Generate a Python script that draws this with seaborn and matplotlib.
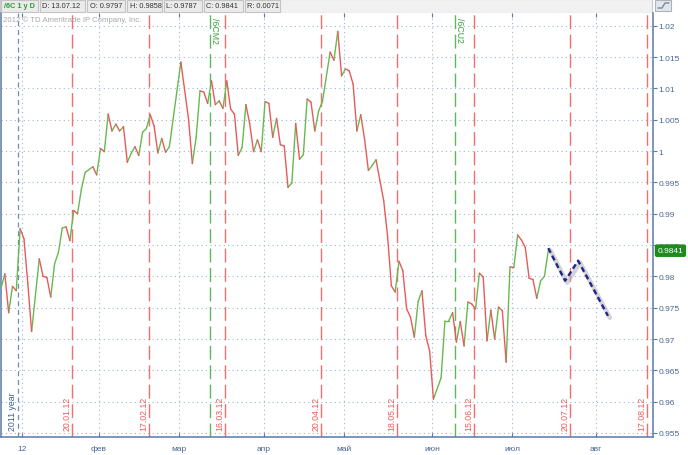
import numpy as np
import pandas as pd
import matplotlib
matplotlib.use("Agg")
import matplotlib.pyplot as plt
import seaborn as sns
from matplotlib.patches import Rectangle
from matplotlib import transforms

# ---------------- data ----------------
day_idx = [0, 1, 2, 3, 4, 5, 6, 7, 8, 10, 11, 12, 13, 14, 15, 16, 17, 18, 19, 20,
           21, 22, 24, 25, 26, 27, 28, 29, 30, 31, 32, 33, 34, 35, 36, 37, 38, 39, 40, 41,
           42, 43, 44, 47, 49, 50, 51, 52, 53, 54, 55, 56, 57, 58, 59, 60, 61, 62, 63, 64,
           65, 66, 67, 68, 69, 70, 71, 72, 73, 74, 75, 76, 77, 78, 79, 80, 81, 82, 83, 84,
           86, 87, 88, 89, 90, 91, 92, 93, 94, 95, 96, 97, 98, 99, 100, 101, 102, 103, 104, 105,
           106, 107, 108, 109, 110, 111, 112, 113, 115, 116, 117, 118, 119, 120, 121, 122, 123, 124, 125, 126,
           127, 128, 129, 130, 131, 132, 133, 134, 135, 136, 137, 138, 139, 140, 141, 142, 143]
close = [0.9781, 0.9804, 0.9742, 0.9784, 0.9777, 0.9876, 0.9860, 0.9789, 0.9712, 0.9828,
         0.9800, 0.9798, 0.9767, 0.9820, 0.9838, 0.9877, 0.9879, 0.9857, 0.9905, 0.9900,
         0.9939, 0.9966, 0.9975, 0.9962, 1.0004, 0.9999, 1.0059, 1.0032, 1.0043, 1.0032,
         1.0039, 0.9982, 0.9996, 1.0007, 0.9993, 1.0030, 1.0036, 1.0058, 1.0040, 0.9997,
         1.0020, 0.9998, 1.0007, 1.0142, 1.0051, 0.9980, 1.0022, 1.0096, 1.0094, 1.0076,
         1.0112, 1.0074, 1.0080, 1.0068, 1.0112, 1.0067, 1.0059, 0.9993, 1.0006, 1.0074,
         1.0043, 0.9999, 1.0018, 0.9999, 1.0079, 1.0076, 1.0022, 1.0052, 1.0010, 1.0008,
         0.9942, 0.9949, 1.0044, 0.9987, 0.9994, 1.0083, 1.0078, 1.0032, 1.0064, 1.0079,
         1.0158, 1.0145, 1.0191, 1.0120, 1.0131, 1.0128, 1.0107, 1.0032, 1.0058, 1.0019,
         0.9969, 0.9977, 0.9986, 0.9953, 0.9921, 0.9865, 0.9785, 0.9775, 0.9824, 0.9809,
         0.9748, 0.9735, 0.9703, 0.9760, 0.9777, 0.9705, 0.9681, 0.9604, 0.9638, 0.9729,
         0.9729, 0.9742, 0.9695, 0.9728, 0.9689, 0.9759, 0.9756, 0.9748, 0.9805, 0.9799,
         0.9697, 0.9746, 0.9700, 0.9751, 0.9745, 0.9663, 0.9815, 0.9814, 0.9866, 0.9858,
         0.9846, 0.9797, 0.9795, 0.9765, 0.9793, 0.9800, 0.9841]

fc_idx = [143, 147.4, 150.8, 158.6]
fc_val = [0.9845, 0.9793, 0.9825, 0.9737]

month_pos = [5.5, 25.6, 46.5, 68.7, 89.6, 112.6, 133.5, 155.5]
month_labels = ["12", "фев", "мар", "апр", "май", "июн", "июл", "авг"]

expiry_pos = [18.55, 38.7, 58.5, 83.6, 103.5, 123.6, 148.7, 168.8]
expiry_labels = ["20.01.12", "17.02.12", "16.03.12", "20.04.12",
                 "18.05.12", "15.06.12", "20.07.12", "17.08.12"]

roll_pos = [54.5, 118.6]
roll_labels = ["/6CM2", "/6CU2"]

year_pos = 4.4
year_label = "2011 year"

y_ticks = [0.955, 0.96, 0.965, 0.97, 0.975, 0.98, 0.985, 0.99, 0.995,
           1.0, 1.005, 1.01, 1.015, 1.02]

header_fields = ["/6C 1 y D", "D: 13.07.12", "O: 0.9797", "H: 0.9858",
                 "L: 0.9787", "C: 0.9841", "R: 0.0071"]
last_close = 0.9841

# ---------------- style ----------------
sns.set_style("white")
plt.rcParams['font.family'] = ['Liberation Sans', 'DejaVu Sans']

GREEN = "#66b94f"
RED = "#e85a5a"
AXC = "#5a7aa6"
TXT = "#4a6690"
GRID = "#9db3d3"

W, H = 688, 456
fig = plt.figure(figsize=(W / 100, H / 100), dpi=100)
ax = fig.add_axes([1 / W, 18 / H, 652 / W, 424 / H])

# segments coloured by direction
rows = []
for k in range(len(day_idx) - 1):
    d = "up" if close[k + 1] >= close[k] else "down"
    rows.append((k, d, day_idx[k], close[k]))
    rows.append((k, d, day_idx[k + 1], close[k + 1]))
seg = pd.DataFrame(rows, columns=["seg", "dir", "i", "p"])

# grid
for yv in y_ticks:
    ax.axhline(yv, color=GRID, lw=0.8, dashes=(1, 3), zorder=0)
for xv in month_pos:
    ax.axvline(xv, color=GRID, lw=0.8, dashes=(1, 3), zorder=0)

# event lines
ax.axvline(year_pos, color="#6f8fbb", lw=0.9, dashes=(4, 3), zorder=1)
for xv in expiry_pos:
    ax.axvline(xv, color="#f07070", lw=1.0, dashes=(10, 4), zorder=1)
for xv in roll_pos:
    ax.axvline(xv, color="#5cb85c", lw=1.0, dashes=(10, 4), zorder=1)

sns.lineplot(data=seg, x="i", y="p", units="seg", hue="dir", estimator=None,
             palette={"up": GREEN, "down": RED}, legend=False, lw=1.0,
             sort=False, ax=ax, zorder=3)

# forecast with shadow
fc = pd.DataFrame({"i": fc_idx, "p": fc_val})
sns.lineplot(data=fc, x="i", y="p", color="#b8b8b8", lw=3.2, alpha=0.6,
             sort=False, ax=ax, zorder=3)
shadow = ax.lines[-1]
shadow.set_transform(transforms.offset_copy(ax.transData, fig=fig, x=2, y=-2, units='dots'))
sns.lineplot(data=fc, x="i", y="p", color="#23238f", lw=1.7, sort=False, ax=ax,
             zorder=4, dashes=False)
ax.lines[-1].set_dashes((2.2, 1.4))

# labels of event lines
bl = transforms.blended_transform_factory(ax.transData, ax.transAxes)
ax.text(year_pos - 1.3, 0.016, year_label, rotation=90, ha="center", va="bottom",
        color="#3d5f92", fontsize=6.3, transform=bl)
for xv, lab in zip(expiry_pos, expiry_labels):
    ax.text(xv - 1.3, 0.016, lab, rotation=90, ha="center", va="bottom",
            color="#f05a5a", fontsize=6.3, transform=bl)
for xv, lab in zip(roll_pos, roll_labels):
    ax.text(xv + 1.2, 0.99, lab, rotation=270, ha="center", va="top",
            color="#3aa03a", fontsize=6.3, transform=bl)

ax.text(2 / 652, (438 - 20) / 424, "2012 © TD Ameritrade IP Company, Inc.",
        transform=ax.transAxes, fontsize=5.6, color="#a8a8a8", va="center", ha="left")

# axes
ax.set_xlim(0, 652 / 3.827)
ax.set_ylim(0.95436, 1.02203)
ax.yaxis.tick_right()
ax.set_yticks(y_ticks)
ax.set_yticklabels([f"{v:g}" for v in y_ticks])
ax.set_xticks(month_pos)
ax.set_xticklabels(month_labels)
ax.set_xlabel("")
ax.set_ylabel("")
ax.tick_params(axis="y", right=True, left=False, length=3, width=0.8, color=AXC,
               labelcolor=TXT, labelsize=6, pad=1)
ax.tick_params(axis="x", bottom=True, top=True, direction="in", length=3, width=0.8,
               color=AXC, labelcolor=TXT, labelsize=6, pad=6)
for s in ["left", "right", "bottom"]:
    ax.spines[s].set_color(AXC)
    ax.spines[s].set_linewidth(1.1)
ax.spines["top"].set_visible(False)

# price tag
bt = transforms.blended_transform_factory(ax.transAxes, ax.transData)
ax.text(1.007, last_close, f"{last_close:.4f}", transform=bt, color="white",
        fontsize=6, va="center", ha="left", zorder=10, clip_on=False,
        bbox=dict(boxstyle="round,pad=0.25,rounding_size=0.15", fc="#1f8a1f", ec="#1f8a1f"))

# header bar
def fx(px):
    return px / W

def fy(py):
    return 1 - py / H

fig.add_artist(Rectangle((0, fy(14)), fx(652), 14 / H, transform=fig.transFigure,
                         fc="#f1f1f1", ec="#c9c9c9", lw=0.8, zorder=0))
box_x = [(1, 38), (40, 85), (87, 125), (127, 162), (164, 202), (204, 243), (245, 280)]
for (x0, x1), lab in zip(box_x, header_fields):
    fig.add_artist(Rectangle((fx(x0), fy(13)), fx(x1 - x0), 12 / H,
                             transform=fig.transFigure, fc="#ebebeb", ec="#c4c4c4", lw=0.8))
    first = lab.startswith("/6C")
    fig.text(fx(x0 + 2.5), fy(7), lab, fontsize=5.3, va="center", ha="left",
             color="#2e9a2e" if first else "#333333",
             fontweight="bold" if first else "normal")
fig.add_artist(Rectangle((fx(655), fy(12)), fx(16), 11 / H, transform=fig.transFigure,
                         fc="#e2e6ea", ec="#aab4bf", lw=0.8))
fig.add_artist(plt.Line2D([fx(658), fx(662), fx(665), fx(669)],
                          [fy(9), fy(9), fy(4), fy(4)], transform=fig.transFigure,
                          color="#7a8a9a", lw=1.0))

fig.savefig("out.png", dpi=100)
